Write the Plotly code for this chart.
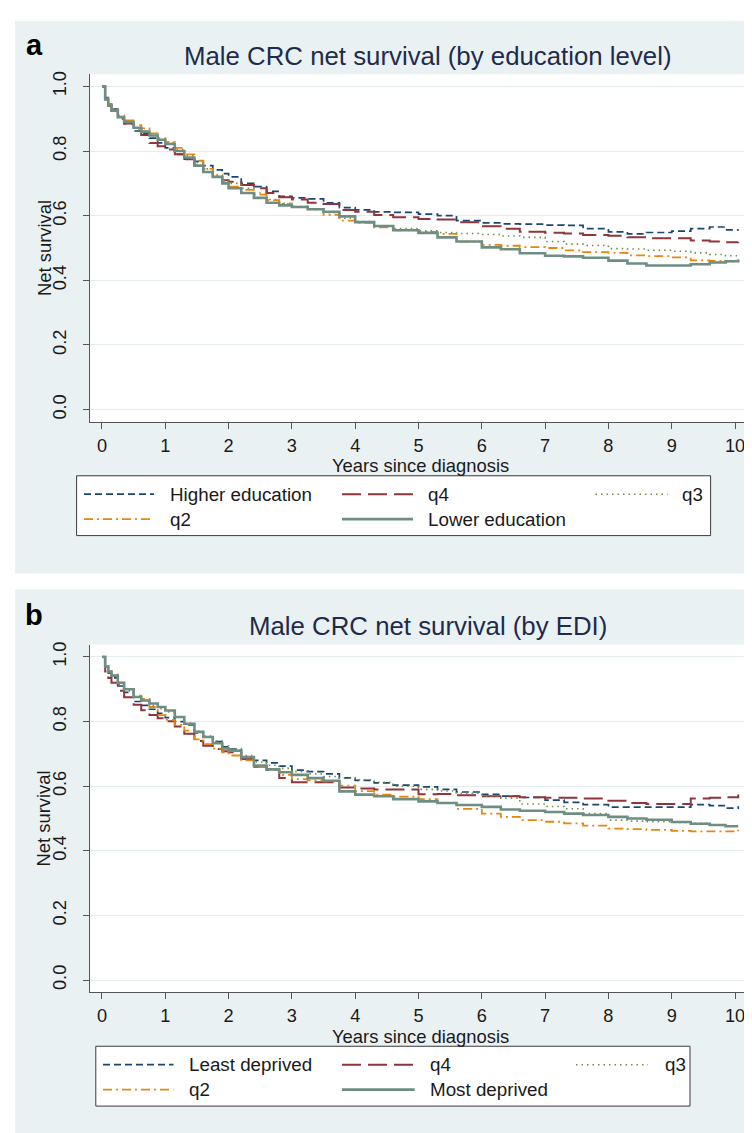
import plotly.graph_objects as go

W, H = 752, 1133

# ---------------- data ----------------
years = [0, 0.05, 0.1, 0.15, 0.25, 0.35, 0.5, 0.62, 0.75, 0.88, 1.0, 1.15, 1.3, 1.46, 1.6,
         1.75, 1.9, 2.0, 2.2, 2.4, 2.6, 2.8, 3.0, 3.25, 3.5, 3.75, 4.0, 4.3, 4.6, 5.0, 5.3,
         5.6, 6.0, 6.3, 6.6, 7.0, 7.3, 7.6, 8.0, 8.3, 8.6, 9.0, 9.3, 9.6, 9.85, 10.05]

# Panel a: by education level
edu_higher = [1.0, 0.965, 0.945, 0.93, 0.905, 0.885, 0.862, 0.855, 0.84, 0.825, 0.81, 0.79, 0.775, 0.768, 0.755,
              0.742, 0.73, 0.72, 0.70, 0.69, 0.675, 0.66, 0.655, 0.652, 0.64, 0.625, 0.618, 0.612, 0.61, 0.605, 0.60,
              0.585, 0.578, 0.575, 0.574, 0.571, 0.57, 0.56, 0.55, 0.544, 0.548, 0.552, 0.56, 0.565, 0.556, 0.557]
edu_q4 = [1.0, 0.96, 0.94, 0.925, 0.90, 0.885, 0.87, 0.85, 0.825, 0.815, 0.805, 0.79, 0.775, 0.755, 0.735,
          0.72, 0.71, 0.705, 0.695, 0.685, 0.67, 0.657, 0.65, 0.64, 0.636, 0.618, 0.612, 0.602, 0.595, 0.59, 0.588,
          0.58, 0.567, 0.56, 0.55, 0.547, 0.545, 0.54, 0.538, 0.533, 0.53, 0.53, 0.523, 0.52, 0.518, 0.519]
edu_q3 = [1.0, 0.965, 0.945, 0.93, 0.905, 0.89, 0.872, 0.86, 0.848, 0.835, 0.825, 0.805, 0.785, 0.765, 0.745,
          0.725, 0.71, 0.70, 0.685, 0.67, 0.65, 0.637, 0.628, 0.62, 0.61, 0.592, 0.582, 0.568, 0.56, 0.553, 0.548,
          0.545, 0.542, 0.537, 0.533, 0.52, 0.512, 0.508, 0.498, 0.497, 0.493, 0.49, 0.485, 0.48, 0.476, 0.47]
edu_q2 = [1.0, 0.965, 0.945, 0.93, 0.91, 0.895, 0.88, 0.87, 0.855, 0.84, 0.828, 0.81, 0.79, 0.77, 0.745,
          0.725, 0.705, 0.69, 0.68, 0.665, 0.648, 0.638, 0.628, 0.62, 0.603, 0.585, 0.578, 0.564, 0.555, 0.55, 0.544,
          0.52, 0.51, 0.507, 0.503, 0.50, 0.493, 0.487, 0.485, 0.477, 0.475, 0.471, 0.462, 0.46, 0.459, 0.469]
edu_lower = [1.0, 0.96, 0.94, 0.925, 0.905, 0.89, 0.872, 0.86, 0.848, 0.835, 0.822, 0.80, 0.78, 0.755, 0.735,
             0.72, 0.70, 0.685, 0.67, 0.655, 0.64, 0.632, 0.627, 0.62, 0.612, 0.598, 0.58, 0.568, 0.555, 0.547, 0.533,
             0.52, 0.502, 0.496, 0.484, 0.476, 0.474, 0.47, 0.461, 0.452, 0.446, 0.446, 0.45, 0.455, 0.459, 0.464]

# Panel b: by EDI
edi_least = [1.0, 0.97, 0.95, 0.935, 0.91, 0.89, 0.862, 0.85, 0.838, 0.825, 0.812, 0.80, 0.79, 0.765, 0.752,
             0.738, 0.722, 0.715, 0.69, 0.68, 0.672, 0.662, 0.65, 0.645, 0.638, 0.626, 0.618, 0.61, 0.603, 0.598, 0.59,
             0.582, 0.575, 0.569, 0.565, 0.557, 0.55, 0.543, 0.535, 0.535, 0.535, 0.535, 0.543, 0.54, 0.532, 0.538]
edi_q4 = [1.0, 0.955, 0.935, 0.92, 0.895, 0.875, 0.852, 0.835, 0.82, 0.81, 0.801, 0.785, 0.762, 0.74, 0.725,
          0.715, 0.708, 0.705, 0.684, 0.66, 0.65, 0.625, 0.612, 0.612, 0.612, 0.596, 0.593, 0.59, 0.59, 0.575, 0.576,
          0.572, 0.569, 0.569, 0.566, 0.564, 0.564, 0.562, 0.555, 0.548, 0.545, 0.545, 0.562, 0.564, 0.566, 0.574]
edi_q3 = [1.0, 0.97, 0.952, 0.94, 0.915, 0.895, 0.875, 0.865, 0.85, 0.84, 0.83, 0.815, 0.795, 0.77, 0.755,
          0.74, 0.725, 0.715, 0.695, 0.675, 0.665, 0.655, 0.645, 0.638, 0.63, 0.625, 0.62, 0.612, 0.60, 0.59, 0.585,
          0.578, 0.57, 0.563, 0.545, 0.537, 0.53, 0.515, 0.495, 0.492, 0.49, 0.488, 0.485, 0.48, 0.476, 0.478]
edi_q2 = [1.0, 0.97, 0.955, 0.945, 0.92, 0.90, 0.88, 0.87, 0.845, 0.82, 0.805, 0.79, 0.772, 0.745, 0.73,
          0.716, 0.705, 0.695, 0.68, 0.66, 0.65, 0.635, 0.622, 0.618, 0.615, 0.602, 0.585, 0.574, 0.568, 0.56, 0.548,
          0.53, 0.515, 0.505, 0.495, 0.49, 0.485, 0.478, 0.469, 0.467, 0.465, 0.462, 0.46, 0.46, 0.46, 0.465]
edi_most = [1.0, 0.97, 0.955, 0.942, 0.92, 0.90, 0.876, 0.865, 0.856, 0.845, 0.834, 0.814, 0.793, 0.768, 0.752,
            0.733, 0.717, 0.71, 0.69, 0.664, 0.652, 0.643, 0.635, 0.625, 0.617, 0.584, 0.574, 0.569, 0.56, 0.553, 0.548,
            0.542, 0.536, 0.528, 0.524, 0.52, 0.515, 0.511, 0.505, 0.50, 0.496, 0.489, 0.484, 0.48, 0.476, 0.476]

names_a = ["Higher education", "q4", "q3", "q2", "Lower education"]
names_b = ["Least deprived", "q4", "q3", "q2", "Most deprived"]
titles = ["Male CRC net survival (by education level)", "Male CRC net survival (by EDI)"]
panel_labels = ["a", "b"]
x_ticks = [0, 1, 2, 3, 4, 5, 6, 7, 8, 9, 10]
y_ticks = [0.0, 0.2, 0.4, 0.6, 0.8, 1.0]
y_ticktext = ["0.0", "0.2", "0.4", "0.6", "0.8", "1.0"]
x_title = "Years since diagnosis"
y_title = "Net survival"

# ---------------- styling ----------------
FONT = "Liberation Sans, Arial, sans-serif"
BG = "#EAF1F3"
GRID = "#E4ECEF"
AXIS = "#555555"
TXT = "#1a1a1a"
TITLE_C = "#1e2b4d"
styles = [
    dict(color="#1a476f", dash="7px,4px", width=1.7),
    dict(color="#90353b", dash="19px,7px", width=2.0),
    dict(color="#6f8f45", dash="1.5px,4px", width=1.6),
    dict(color="#e8850c", dash="9px,4px,2px,4px", width=1.8),
    dict(color="#6e8e84", dash="solid", width=2.6),
]

def fx(x):
    return x / W

def fy(y):
    return 1 - y / H

DY = 572.0
PLOT_L, PLOT_R = 81.7, 743.5
PLOT_T, PLOT_B = 63.3, 412.0

panels = [
    dict(series=[edu_higher, edu_q4, edu_q3, edu_q2, edu_lower], names=names_a, dy=0.0,
         bg=(7, 10, 752, 564), legend=(68.6, 702.6, 466, 526),
         cols=[(76, 146, 160), (334, 405, 418), (587.5, 659.5, 671.5)]),
    dict(series=[edi_least, edi_q4, edi_q3, edi_q2, edi_most], names=names_b, dy=DY,
         bg=(7, 580, 752, 1128), legend=(87.8, 682, 466, 526),
         cols=[(95, 165.5, 179), (334, 406.7, 419.7), (568, 640, 654.7)]),
]
ROWS = [484.5, 509.5]

fig = go.Figure()
shapes = []
annotations = []
layout_axes = {}

for i, p in enumerate(panels):
    dy = p["dy"]
    xa = "x" if i == 0 else "x2"
    ya = "y" if i == 0 else "y2"
    for vals, name, st in zip(p["series"], p["names"], styles):
        fig.add_trace(go.Scatter(
            x=years, y=vals, mode="lines", name=name, showlegend=False,
            line=dict(color=st["color"], dash=st["dash"], width=st["width"], shape="hv"),
            xaxis=xa, yaxis=ya, hoverinfo="skip"))

    xkey = "xaxis" if i == 0 else "xaxis2"
    ykey = "yaxis" if i == 0 else "yaxis2"
    layout_axes[xkey] = dict(
        domain=[fx(PLOT_L), fx(PLOT_R)], range=[-0.194, 10.26], anchor=ya,
        tickvals=x_ticks, ticks="outside", ticklen=6, tickcolor=AXIS, tickwidth=1,
        showline=True, linecolor=AXIS, linewidth=1, showgrid=False, zeroline=False,
        tickfont=dict(family=FONT, size=18.2, color=TXT), ticklabelstandoff=1)
    layout_axes[ykey] = dict(
        domain=[fy(PLOT_B + dy), fy(PLOT_T + dy)], range=[-0.038, 1.038], anchor=xa,
        tickvals=y_ticks, ticktext=y_ticktext, tickangle=-90,
        ticks="outside", ticklen=6, tickcolor=AXIS, tickwidth=1,
        showline=True, linecolor=AXIS, linewidth=1, showgrid=True, gridcolor=GRID,
        gridwidth=1.3, zeroline=False,
        tickfont=dict(family=FONT, size=18.2, color=TXT), ticklabelstandoff=9)

    # backgrounds
    bx0, by0, bx1, by1 = p["bg"]
    shapes.append(dict(type="rect", xref="paper", yref="paper", x0=fx(bx0), x1=fx(bx1),
                       y0=fy(by1), y1=fy(by0), fillcolor=BG, line=dict(width=0), layer="below"))
    shapes.append(dict(type="rect", xref="paper", yref="paper", x0=fx(PLOT_L), x1=fx(PLOT_R),
                       y0=fy(PLOT_B + dy), y1=fy(PLOT_T + dy), fillcolor="white",
                       line=dict(width=0), layer="below"))

    # panel letter and title
    annotations.append(dict(text="<b>%s</b>" % panel_labels[i], x=fx(26), y=fy(34 + dy),
                            xref="paper", yref="paper", showarrow=False, xanchor="center",
                            yanchor="middle", font=dict(family=FONT, size=29, color="#000000")))
    annotations.append(dict(text=titles[i], x=fx(420), y=fy(45 + dy), xref="paper", yref="paper",
                            showarrow=False, xanchor="center", yanchor="middle",
                            font=dict(family=FONT, size=25.8, color=TITLE_C)))
    annotations.append(dict(text=x_title, x=fx((PLOT_L + PLOT_R) / 2), y=fy(456 + dy),
                            xref="paper", yref="paper", showarrow=False, xanchor="center",
                            yanchor="middle", font=dict(family=FONT, size=18.4, color=TXT)))
    annotations.append(dict(text=y_title, x=fx(36), y=fy((PLOT_T + PLOT_B) / 2 + dy),
                            xref="paper", yref="paper", showarrow=False, xanchor="center",
                            yanchor="middle", textangle=-90,
                            font=dict(family=FONT, size=18.4, color=TXT)))

    # legend box
    lx0, lx1, ly0, ly1 = p["legend"]
    shapes.append(dict(type="rect", xref="paper", yref="paper", x0=fx(lx0), x1=fx(lx1),
                       y0=fy(ly1 + dy), y1=fy(ly0 + dy), fillcolor="white",
                       line=dict(color="#3a3a3a", width=1), layer="above"))
    slots = [(0, 0), (0, 1), (0, 2), (1, 0), (1, 1)]
    for k, (r, c) in enumerate(slots):
        sx0, sx1, tx = p["cols"][c]
        yy = ROWS[r] + dy
        st = styles[k]
        shapes.append(dict(type="line", xref="paper", yref="paper", x0=fx(sx0), x1=fx(sx1),
                           y0=fy(yy), y1=fy(yy), layer="above",
                           line=dict(color=st["color"], dash=st["dash"], width=st["width"])))
        annotations.append(dict(text=p["names"][k], x=fx(tx), y=fy(yy), xref="paper",
                                yref="paper", showarrow=False, xanchor="left", yanchor="middle",
                                font=dict(family=FONT, size=18.8, color=TXT)))

fig.update_layout(
    width=W, height=H, margin=dict(l=0, r=0, t=0, b=0),
    paper_bgcolor="white", plot_bgcolor="white", showlegend=False,
    shapes=shapes, annotations=annotations, **layout_axes)

fig.write_html("out.html")
